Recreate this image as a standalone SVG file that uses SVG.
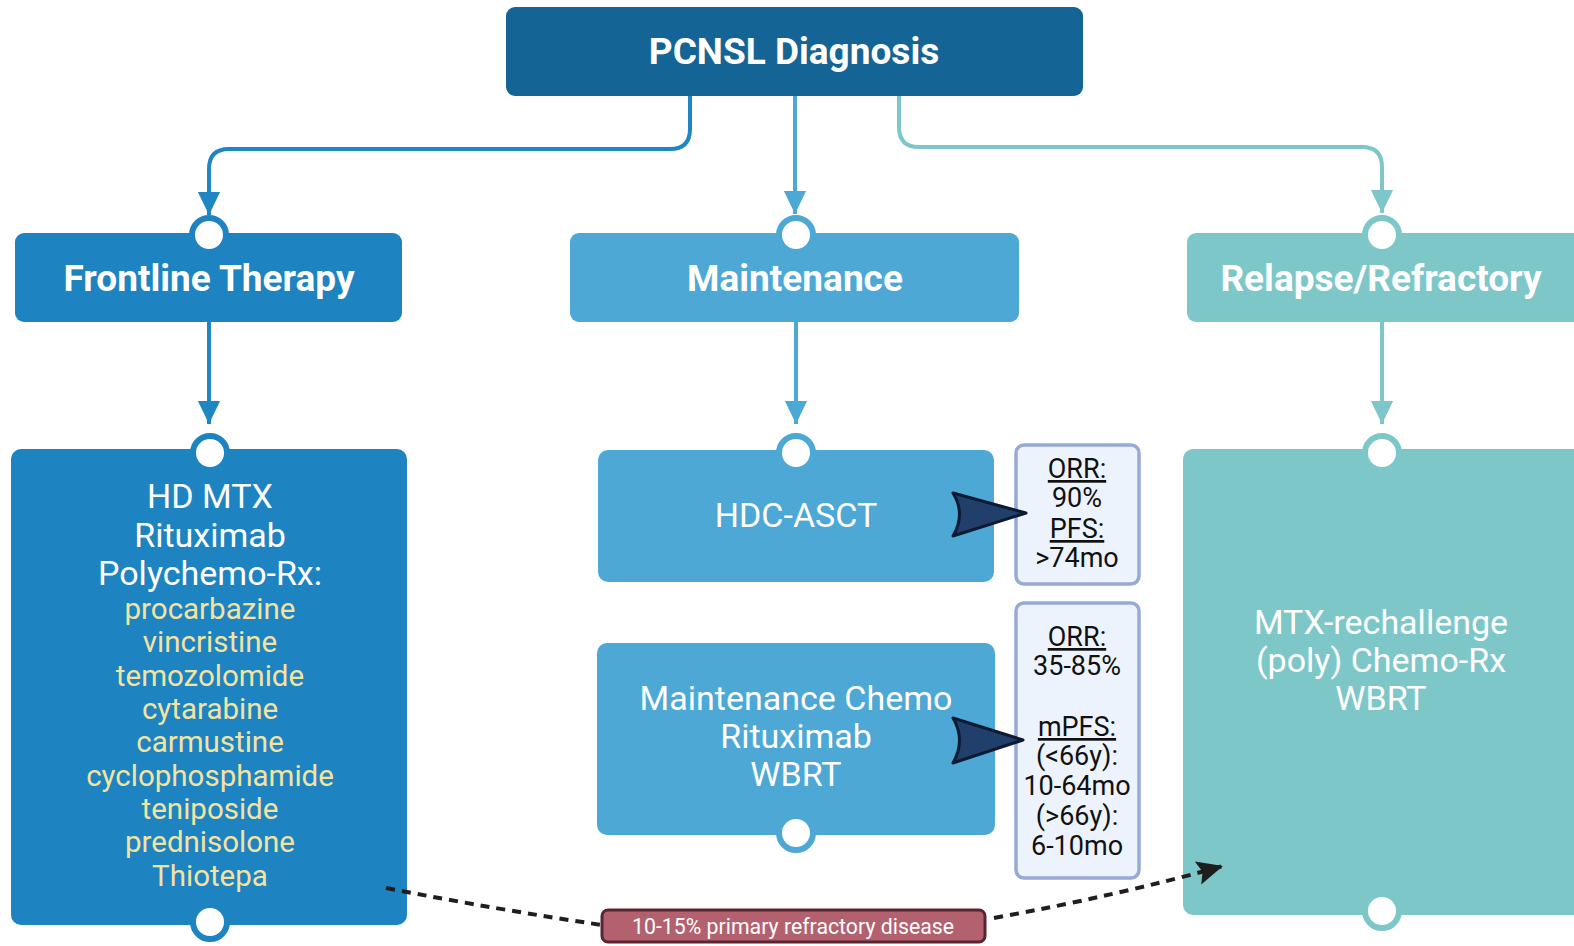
<svg xmlns="http://www.w3.org/2000/svg" width="1574" height="946" viewBox="0 0 1574 946">
<defs>
<style>
.t{font-family:Roboto,"Liberation Sans",sans-serif;text-anchor:middle}
.h{font-weight:bold;font-size:37px;fill:#fff}
.w{font-size:34px;fill:#fff}
.y{font-size:29.5px;fill:#f3e3a3}
.s{font-size:27px;fill:#111}
.u{text-decoration:underline}
.port{fill:#fff;stroke-width:6}
.conn{fill:none;stroke-width:4}
</style>
<marker id="aF" markerWidth="6" markerHeight="6" refX="5.8" refY="3" orient="auto" markerUnits="strokeWidth"><path d="M0,0.2 L5.8,3 L0,5.8 Z" fill="#1e86c3"/></marker>
<marker id="aM" markerWidth="6" markerHeight="6" refX="5.8" refY="3" orient="auto" markerUnits="strokeWidth"><path d="M0,0.2 L5.8,3 L0,5.8 Z" fill="#4ca8d4"/></marker>
<marker id="aR" markerWidth="6" markerHeight="6" refX="5.8" refY="3" orient="auto" markerUnits="strokeWidth"><path d="M0,0.2 L5.8,3 L0,5.8 Z" fill="#7ec6c9"/></marker>
<marker id="aK" markerWidth="7" markerHeight="6" refX="6.5" refY="3" orient="auto" markerUnits="strokeWidth"><path d="M0,0 L6.5,3 L0,6 L1.2,3 Z" fill="#1e1e1e"/></marker>
</defs>
<rect width="1574" height="946" fill="#fff"/>

<g id="diagnosis">
<rect x="506" y="7" width="577" height="89" rx="9" fill="#156496"/>
<text class="t h" x="794" y="64">PCNSL Diagnosis</text>
</g>

<g id="frontline">
<rect x="15" y="233" width="387" height="89" rx="9" fill="#1d84c1"/>
<circle class="port" cx="209" cy="235" r="17" stroke="#1d84c1"/>
<text class="t h" x="209" y="291">Frontline Therapy</text>
</g>

<g id="maintenance">
<rect x="570" y="233" width="449" height="89" rx="9" fill="#4da8d5"/>
<circle class="port" cx="796" cy="235" r="17" stroke="#4da8d5"/>
<text class="t h" x="795" y="291">Maintenance</text>
</g>

<g id="relapse">
<rect x="1187" y="233" width="400" height="89" rx="9" fill="#7ec7c9"/>
<circle class="port" cx="1382" cy="235" r="17" stroke="#7ec7c9"/>
<text class="t h" x="1381" y="291">Relapse/Refractory</text>
</g>

<g id="frontline-regimen">
<rect x="11" y="449" width="396" height="476" rx="10" fill="#1d84c1"/>
<circle class="port" cx="210" cy="453" r="17" stroke="#1d84c1"/>
<circle class="port" cx="210" cy="922" r="17" stroke="#1d84c1"/>
<text class="t w" x="210" y="508">HD MTX</text>
<text class="t w" x="210" y="547">Rituximab</text>
<text class="t w" x="210" y="585">Polychemo-Rx:</text>
<text class="t y" x="210" y="619">procarbazine</text>
<text class="t y" x="210" y="652">vincristine</text>
<text class="t y" x="210" y="686">temozolomide</text>
<text class="t y" x="210" y="719">cytarabine</text>
<text class="t y" x="210" y="752">carmustine</text>
<text class="t y" x="210" y="786">cyclophosphamide</text>
<text class="t y" x="210" y="819">teniposide</text>
<text class="t y" x="210" y="852">prednisolone</text>
<text class="t y" x="210" y="886">Thiotepa</text>
</g>

<g id="hdc-asct">
<rect x="598" y="450" width="396" height="132" rx="10" fill="#4da8d5"/>
<circle class="port" cx="796" cy="453" r="17" stroke="#4da8d5"/>
<text class="t w" x="796" y="527">HDC-ASCT</text>
</g>

<g id="maint-chemo">
<rect x="597" y="643" width="398" height="192" rx="10" fill="#4da8d5"/>
<circle class="port" cx="796" cy="833" r="17" stroke="#4da8d5"/>
<text class="t w" x="796" y="710">Maintenance Chemo</text>
<text class="t w" x="796" y="748">Rituximab</text>
<text class="t w" x="796" y="786">WBRT</text>
</g>

<g id="relapse-regimen">
<rect x="1183" y="449" width="404" height="466" rx="10" fill="#7ec7c9"/>
<circle class="port" cx="1382" cy="453" r="17" stroke="#7ec7c9"/>
<circle class="port" cx="1382" cy="911" r="17" stroke="#7ec7c9"/>
<text class="t w" x="1381" y="634">MTX-rechallenge</text>
<text class="t w" x="1381" y="672">(poly) Chemo-Rx</text>
<text class="t w" x="1381" y="710">WBRT</text>
</g>

<g id="outcome-hdc">
<rect x="1016" y="445" width="123" height="139" rx="8" fill="#edf3fc" stroke="#96aad6" stroke-width="3.5"/>
<text class="t s u" x="1077" y="478">ORR:</text>
<text class="t s" x="1077" y="507">90%</text>
<text class="t s u" x="1077" y="538">PFS:</text>
<text class="t s" x="1077" y="567">&gt;74mo</text>
</g>

<g id="outcome-maint">
<rect x="1016" y="603" width="123" height="275" rx="8" fill="#edf3fc" stroke="#96aad6" stroke-width="3.5"/>
<text class="t s u" x="1077" y="646">ORR:</text>
<text class="t s" x="1077" y="675">35-85%</text>
<text class="t s u" x="1077" y="736">mPFS:</text>
<text class="t s" x="1077" y="765">(&lt;66y):</text>
<text class="t s" x="1077" y="795">10-64mo</text>
<text class="t s" x="1077" y="825">(&gt;66y):</text>
<text class="t s" x="1077" y="855">6-10mo</text>
</g>

<g id="connectors">
<path class="conn" stroke="#1e86c3" d="M690,96 V129 Q690,149 670,149 H229 Q209,149 209,169 V215" marker-end="url(#aF)"/>
<path class="conn" stroke="#4ca8d4" d="M795,96 V214" marker-end="url(#aM)"/>
<path class="conn" stroke="#7ec6c9" d="M899,96 V127 Q899,147 919,147 H1362 Q1382,147 1382,167 V213" marker-end="url(#aR)"/>
<path class="conn" stroke="#1e86c3" d="M209,322 V424" marker-end="url(#aF)"/>
<path class="conn" stroke="#4ca8d4" d="M796,322 V424" marker-end="url(#aM)"/>
<path class="conn" stroke="#7ec6c9" d="M1382,322 V424" marker-end="url(#aR)"/>
<path fill="none" stroke="#1e1e1e" stroke-width="4" stroke-dasharray="9 7" d="M386,888 Q500,910 602,925"/>
<path fill="none" stroke="#1e1e1e" stroke-width="4" stroke-dasharray="9 7" d="M994,918 Q1120,895 1223,866" marker-end="url(#aK)"/>
<path d="M953,493 L1026,513 L953,536 Q966,514 953,493 Z" fill="#213f6b" stroke="#0c1a33" stroke-width="3" stroke-linejoin="round"/>
<path d="M953,718 L1023,740 L953,763 Q966,740 953,718 Z" fill="#213f6b" stroke="#0c1a33" stroke-width="3" stroke-linejoin="round"/>
</g>

<g id="refractory-label">
<rect x="602" y="910" width="383" height="32" rx="6" fill="#b4616f" stroke="#5a2531" stroke-width="3"/>
<text class="t" x="793" y="934" font-size="22" fill="#fff" textLength="322" lengthAdjust="spacingAndGlyphs">10-15% primary refractory disease</text>
</g>
</svg>
